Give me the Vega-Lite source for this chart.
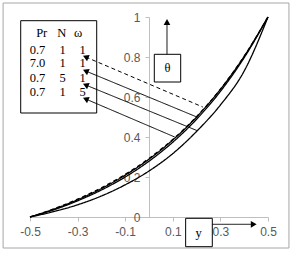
{
  "$schema": "https://vega.github.io/schema/vega-lite/v6.json",
  "width": 238,
  "height": 200,
  "autosize": {"type": "none"},
  "padding": {"left": 30, "top": 17, "right": 28, "bottom": 36},
  "background": "white",
  "config": {
    "view": {"stroke": null},
    "axis": {"grid": false, "title": null, "domainColor": "#bfbfbf", "tickColor": "#bfbfbf", "tickSize": 4, "labelFont": "Liberation Sans", "labelFontSize": 12, "labelColor": "#595959", "labelPadding": 5, "labelFlush": false, "labelOverlap": false}
  },
  "layer": [
    {
      "data": {"values": [
        {"series": "A", "x": -0.5, "t": 0}, {"series": "A", "x": -0.4, "t": 0.041}, {"series": "A", "x": -0.3, "t": 0.089}, {"series": "A", "x": -0.2, "t": 0.146}, {"series": "A", "x": -0.1, "t": 0.213}, {"series": "A", "x": 0, "t": 0.293}, {"series": "A", "x": 0.1, "t": 0.388}, {"series": "A", "x": 0.2, "t": 0.502}, {"series": "A", "x": 0.3, "t": 0.639}, {"series": "A", "x": 0.4, "t": 0.804}, {"series": "A", "x": 0.5, "t": 1},
        {"series": "B", "x": -0.5, "t": 0}, {"series": "B", "x": -0.4, "t": 0.039}, {"series": "B", "x": -0.3, "t": 0.086}, {"series": "B", "x": -0.2, "t": 0.142}, {"series": "B", "x": -0.1, "t": 0.209}, {"series": "B", "x": 0, "t": 0.289}, {"series": "B", "x": 0.1, "t": 0.385}, {"series": "B", "x": 0.2, "t": 0.5}, {"series": "B", "x": 0.3, "t": 0.638}, {"series": "B", "x": 0.4, "t": 0.803}, {"series": "B", "x": 0.5, "t": 1},
        {"series": "C", "x": -0.5, "t": 0}, {"series": "C", "x": -0.4, "t": 0.036}, {"series": "C", "x": -0.3, "t": 0.081}, {"series": "C", "x": -0.2, "t": 0.135}, {"series": "C", "x": -0.1, "t": 0.2}, {"series": "C", "x": 0, "t": 0.279}, {"series": "C", "x": 0.1, "t": 0.374}, {"series": "C", "x": 0.2, "t": 0.489}, {"series": "C", "x": 0.3, "t": 0.628}, {"series": "C", "x": 0.4, "t": 0.797}, {"series": "C", "x": 0.5, "t": 1},
        {"series": "D", "x": -0.5, "t": 0}, {"series": "D", "x": -0.4, "t": 0.027}, {"series": "D", "x": -0.3, "t": 0.061}, {"series": "D", "x": -0.2, "t": 0.105}, {"series": "D", "x": -0.1, "t": 0.161}, {"series": "D", "x": 0, "t": 0.23}, {"series": "D", "x": 0.1, "t": 0.317}, {"series": "D", "x": 0.2, "t": 0.428}, {"series": "D", "x": 0.3, "t": 0.56}, {"series": "D", "x": 0.4, "t": 0.73}, {"series": "D", "x": 0.5, "t": 1}
      ]},
      "mark": {"type": "line", "interpolate": "monotone", "color": "black", "strokeWidth": 1.3},
      "encoding": {
        "x": {"field": "x", "type": "quantitative", "scale": {"domain": [-0.5, 0.5], "nice": false, "zero": false},
          "axis": {"values": [-0.5, -0.3, -0.1, 0.1, 0.3, 0.5], "labelExpr": "'' + datum.value", "labelOverlap": false, "labelFlush": false}},
        "y": {"field": "t", "type": "quantitative", "scale": {"domain": [0, 1], "nice": false, "zero": false},
          "axis": {"tickCount": 5, "format": "~g", "offset": -119, "labelOverlap": false, "labelFlush": false}},
        "detail": {"field": "series"},
        "strokeDash": {"field": "series", "type": "nominal", "scale": {"domain": ["A", "B", "C", "D"], "range": [[4, 3], [1, 0], [1, 0], [1, 0]]}, "legend": null}
      }
    },
    {
      "data": {"values": [{"x": -0.613, "x2": 0.588, "t": 1.07, "t2": -0.155}]},
      "mark": {"type": "rect", "fillOpacity": 0, "stroke": "#a6a6a6", "strokeWidth": 1},
      "encoding": {
        "x": {"field": "x", "type": "quantitative", "scale": {"domain": [-0.5, 0.5], "nice": false, "zero": false}},
        "x2": {"field": "x2"},
        "y": {"field": "t", "type": "quantitative", "scale": {"domain": [0, 1], "nice": false, "zero": false}},
        "y2": {"field": "t2"}
      }
    },
    {
      "data": {"values": [
        {"x": -0.539, "x2": -0.2197, "t": 0.9815, "t2": 0.52},
        {"x": 0.0223, "x2": 0.1332, "t": 0.8135, "t2": 0.675},
        {"x": 0.154, "x2": 0.266, "t": -0.0065, "t2": -0.1485}
      ]},
      "mark": {"type": "rect", "fill": "white", "stroke": "black", "strokeWidth": 1},
      "encoding": {
        "x": {"field": "x", "type": "quantitative", "scale": {"domain": [-0.5, 0.5], "nice": false, "zero": false}},
        "x2": {"field": "x2"},
        "y": {"field": "t", "type": "quantitative", "scale": {"domain": [0, 1], "nice": false, "zero": false}},
        "y2": {"field": "t2"}
      }
    },
    {
      "data": {"values": [
        {"kind": "dash", "x": -0.266, "t": 0.8, "x2": 0.226, "t2": 0.55},
        {"kind": "solid", "x": -0.266, "t": 0.73, "x2": 0.201, "t2": 0.5},
        {"kind": "solid", "x": -0.266, "t": 0.66, "x2": 0.201, "t2": 0.4325},
        {"kind": "solid", "x": -0.266, "t": 0.59, "x2": 0.108, "t2": 0.4},
        {"kind": "solid", "x": 0.0756, "t": 0.8135, "x2": 0.0756, "t2": 0.97},
        {"kind": "solid", "x": 0.266, "t": -0.0365, "x2": 0.44, "t2": -0.0365}
      ]},
      "mark": {"type": "rule", "color": "black", "strokeWidth": 1},
      "encoding": {
        "x": {"field": "x", "type": "quantitative", "scale": {"domain": [-0.5, 0.5], "nice": false, "zero": false}},
        "x2": {"field": "x2"},
        "y": {"field": "t", "type": "quantitative", "scale": {"domain": [0, 1], "nice": false, "zero": false}},
        "y2": {"field": "t2"},
        "strokeDash": {"field": "kind", "type": "nominal", "scale": {"domain": ["dash", "solid"], "range": [[4, 3], [1, 0]]}, "legend": null}
      }
    },
    {
      "data": {"values": [{"x": -0.266, "t": 0.8}, {"x": -0.266, "t": 0.73}, {"x": -0.266, "t": 0.66}, {"x": -0.266, "t": 0.59}]},
      "mark": {"type": "point", "shape": "triangle-up", "filled": true, "color": "black", "opacity": 1, "size": 45, "angle": 293},
      "encoding": {
        "x": {"field": "x", "type": "quantitative", "scale": {"domain": [-0.5, 0.5], "nice": false, "zero": false}},
        "y": {"field": "t", "type": "quantitative", "scale": {"domain": [0, 1], "nice": false, "zero": false}}
      }
    },
    {
      "data": {"values": [{"x": 0.0756, "t": 0.975}]},
      "mark": {"type": "point", "shape": "triangle-up", "filled": true, "color": "black", "opacity": 1, "size": 45, "angle": 0},
      "encoding": {
        "x": {"field": "x", "type": "quantitative", "scale": {"domain": [-0.5, 0.5], "nice": false, "zero": false}},
        "y": {"field": "t", "type": "quantitative", "scale": {"domain": [0, 1], "nice": false, "zero": false}}
      }
    },
    {
      "data": {"values": [{"x": 0.44, "t": -0.0365}]},
      "mark": {"type": "point", "shape": "triangle-up", "filled": true, "color": "black", "opacity": 1, "size": 45, "angle": 90},
      "encoding": {
        "x": {"field": "x", "type": "quantitative", "scale": {"domain": [-0.5, 0.5], "nice": false, "zero": false}},
        "y": {"field": "t", "type": "quantitative", "scale": {"domain": [0, 1], "nice": false, "zero": false}}
      }
    },
    {
      "data": {"values": [
        {"label": "Pr", "x": -0.4508, "t": 0.92}, {"label": "N", "x": -0.3668, "t": 0.92}, {"label": "ω", "x": -0.2983, "t": 0.92},
        {"label": "0.7", "x": -0.4685, "t": 0.835}, {"label": "1", "x": -0.3634, "t": 0.835}, {"label": "1", "x": -0.2794, "t": 0.835},
        {"label": "7.0", "x": -0.4685, "t": 0.77}, {"label": "1", "x": -0.3634, "t": 0.77}, {"label": "1", "x": -0.2794, "t": 0.77},
        {"label": "0.7", "x": -0.4685, "t": 0.695}, {"label": "5", "x": -0.3634, "t": 0.695}, {"label": "1", "x": -0.2794, "t": 0.695},
        {"label": "0.7", "x": -0.4685, "t": 0.625}, {"label": "1", "x": -0.3634, "t": 0.625}, {"label": "5", "x": -0.2794, "t": 0.625},
        {"label": "θ", "x": 0.0778, "t": 0.745},
        {"label": "y", "x": 0.208, "t": -0.078}
      ]},
      "mark": {"type": "text", "font": "Liberation Serif", "fontSize": 12.5, "color": "black", "align": "center", "baseline": "middle"},
      "encoding": {
        "x": {"field": "x", "type": "quantitative", "scale": {"domain": [-0.5, 0.5], "nice": false, "zero": false}},
        "y": {"field": "t", "type": "quantitative", "scale": {"domain": [0, 1], "nice": false, "zero": false}},
        "text": {"field": "label"}
      }
    }
  ]
}
